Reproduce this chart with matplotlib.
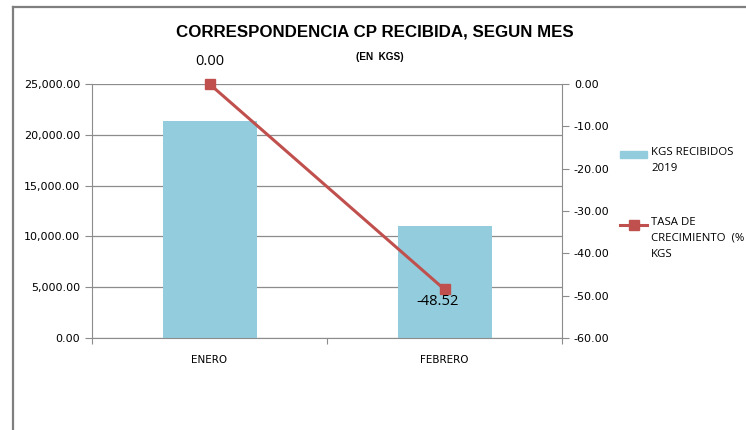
import matplotlib.pyplot as plt
import matplotlib.patches as mpatches
from matplotlib.lines import Line2D
from matplotlib.ticker import FuncFormatter

# Data
months = ["ENERO", "FEBRERO"]
kgs_received = [21380, 11006]
growth_rate = [0.00, -48.52]
growth_labels = ["0.00", "-48.52"]
legend_labels = ["KGS RECIBIDOS\n2019", "TASA DE\nCRECIMIENTO  (%\nKGS"]

BAR_COLOR = "#93CDDD"
LINE_COLOR = "#C0504D"
GRID_COLOR = "#8C8C8C"

W, H = 746, 430
fig = plt.figure(figsize=(W / 100, H / 100), dpi=100)


def fx(px):
    return px / W


def fy(py):
    return 1 - py / H


# outer chart frame (only left and top edges are visible)
fig.add_artist(Line2D([fx(13), fx(13)], [0, fy(7)], transform=fig.transFigure,
                      color="#7F7F7F", lw=1.6))
fig.add_artist(Line2D([fx(13), 1], [fy(7), fy(7)], transform=fig.transFigure,
                      color="#7F7F7F", lw=1.6))

ax = fig.add_axes([fx(92), fy(338), 470 / W, 254 / H])
x = list(range(len(months)))
ax.bar(x, kgs_received, width=0.4, color=BAR_COLOR, zorder=2)
ax.set_xlim(-0.5, 1.5)
ax.set_ylim(0, 25000)
ax.set_yticks(range(0, 25001, 5000))
ax.yaxis.set_major_formatter(FuncFormatter(lambda v, p: f"{v:,.2f}"))
ax.grid(axis="y", color=GRID_COLOR, lw=0.9, zorder=0)
ax.set_axisbelow(True)

# category ticks between groups, labels centred
ax.set_xticks([-0.5, 0.5, 1.5])
ax.set_xticklabels([])
ax.set_xticks(x, minor=True)
ax.set_xticklabels(months, minor=True, fontsize=7.5, family="DejaVu Sans")
ax.tick_params(axis="x", which="minor", length=0, pad=12)
ax.tick_params(axis="x", which="major", length=4, color=GRID_COLOR)
ax.tick_params(axis="y", labelsize=8, length=5, color=GRID_COLOR)

for s in ["top", "right"]:
    ax.spines[s].set_visible(False)
for s in ["left", "bottom"]:
    ax.spines[s].set_color(GRID_COLOR)

ax2 = ax.twinx()
ax2.plot(x, growth_rate, color=LINE_COLOR, lw=2.2, marker="s", markersize=7,
         clip_on=False, zorder=3)
ax2.set_ylim(-60, 0)
ax2.set_yticks(range(-60, 1, 10))
ax2.yaxis.set_major_formatter(FuncFormatter(lambda v, p: f"{v:.2f}"))
ax2.tick_params(axis="y", labelsize=8, length=5, color=GRID_COLOR)
for s in ["top", "left", "bottom"]:
    ax2.spines[s].set_visible(False)
ax2.spines["right"].set_color(GRID_COLOR)

ax2.annotate(growth_labels[0], (x[0], growth_rate[0]), xytext=(0, 16),
             textcoords="offset points", ha="center", va="center", fontsize=10.5,
             family="Open Sans")
ax2.annotate(growth_labels[1], (x[1], growth_rate[1]), xytext=(-5, -9),
             textcoords="offset points", ha="center", va="center", fontsize=10.5,
             family="Open Sans")

fig.text(fx(375), fy(32), "CORRESPONDENCIA CP RECIBIDA, SEGUN MES",
         ha="center", va="center", fontsize=12.2, fontweight="bold",
         family="Liberation Sans")
fig.text(fx(380), fy(57), "(EN  KGS)", ha="center", va="center",
         fontsize=7.2, fontweight="bold", family="Liberation Sans")

# legend, drawn by hand so the handle sits beside the first text line
fig.add_artist(mpatches.Rectangle((fx(620), fy(158)), 27 / W, 7 / H,
                                  transform=fig.transFigure, color=BAR_COLOR))
fig.text(fx(651), fy(147), legend_labels[0], ha="left", va="top", fontsize=8.2,
         family="Open Sans", linespacing=1.6)
fig.add_artist(Line2D([fx(620), fx(647)], [fy(225), fy(225)], transform=fig.transFigure,
                      color=LINE_COLOR, lw=2.2))
fig.add_artist(Line2D([fx(633.5)], [fy(225)], transform=fig.transFigure, color=LINE_COLOR,
                      marker="s", markersize=7))
fig.text(fx(651), fy(217), legend_labels[1], ha="left", va="top", fontsize=8.2,
         family="Open Sans", linespacing=1.6)

fig.savefig("out.png", dpi=100)
